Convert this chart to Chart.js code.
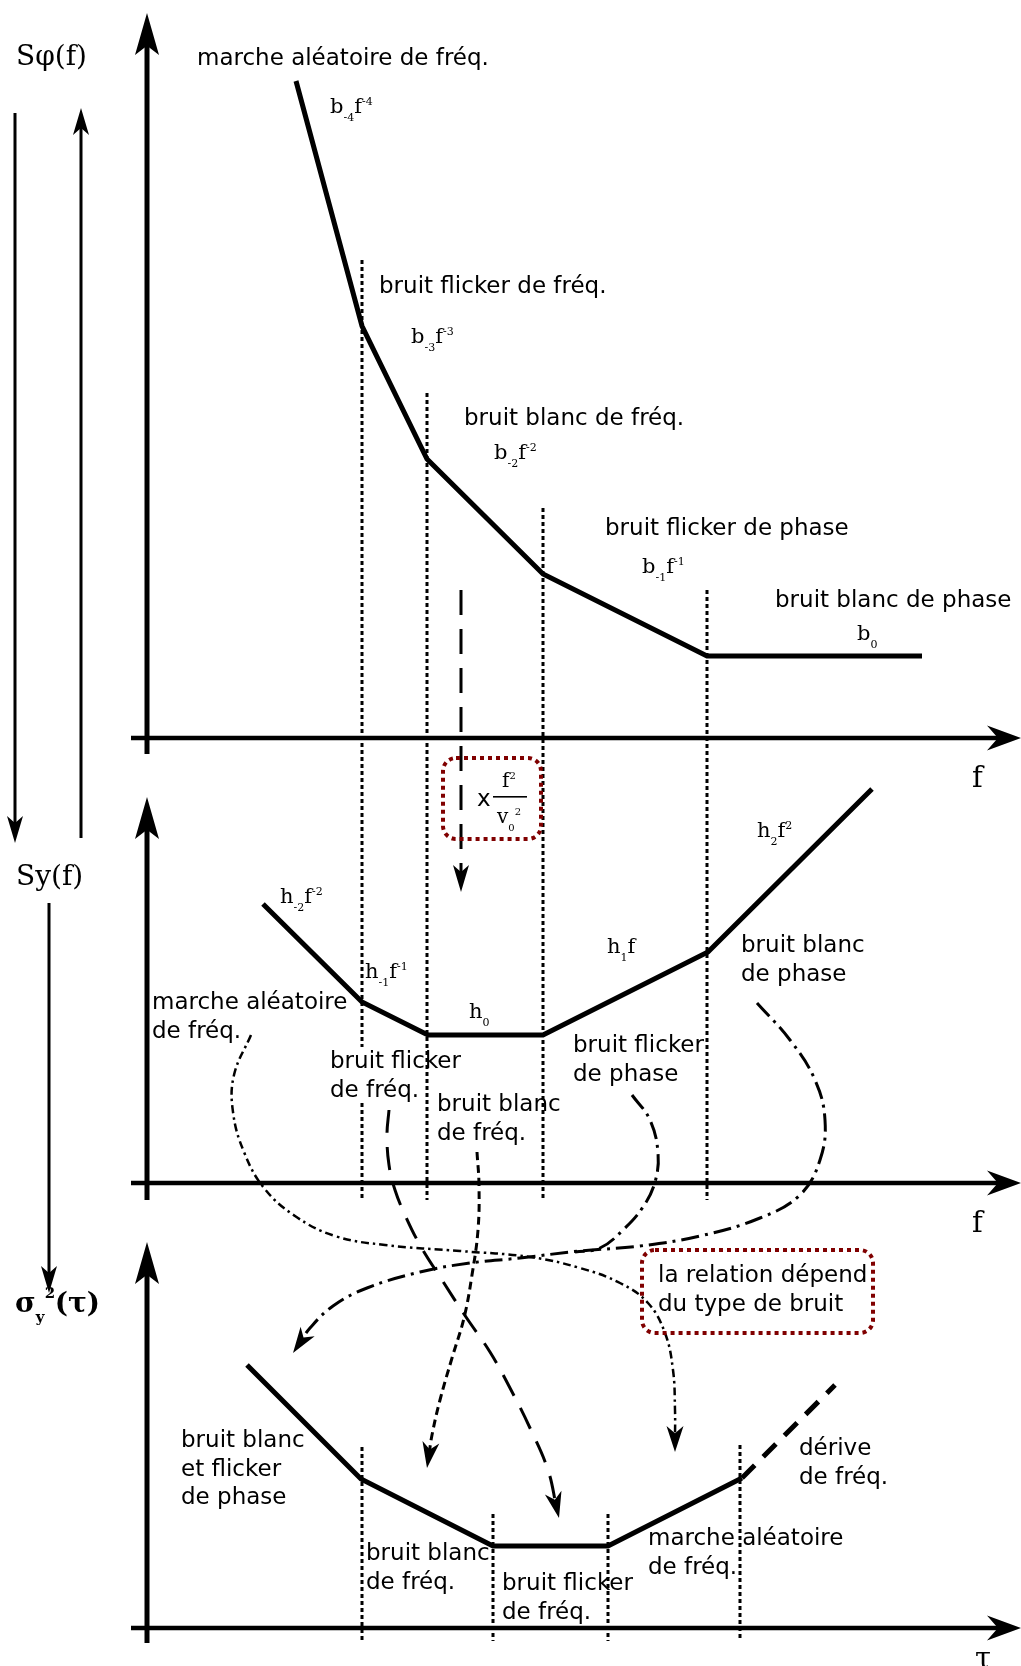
<!DOCTYPE html>
<html>
<head>
<meta charset="utf-8">
<title>Densités spectrales et variance d'Allan</title>
<script src="https://cdn.jsdelivr.net/npm/chart.js@4.4.1/dist/chart.umd.min.js"></script>
<style>
  html, body { margin: 0; padding: 0; background: #fff; }
  #box { width: 1021px; height: 1666px; position: relative; }
</style>
</head>
<body>
<div id="box"><canvas id="diagram"></canvas></div>
<script>
// ---- asymptotes (diagram units, y grows downwards) ----
const phiF = [296, 362, 427, 543, 707, 922];
const phiS = [81, 326, 459, 574, 656, 656];
const syF = [263, 362, 428, 543, 708, 872];
const syS = [904, 1002, 1035, 1035, 952, 789];
const avarTau = [247, 361, 493, 608, 742];
const avarS = [1365, 1479, 1546, 1546, 1478];
const driftTau = [742, 835];
const driftS = [1478, 1385];

// corner frequencies / corner times (dotted guides)
const cornerF = [362, 427, 543, 707];
const cornerTau = [362, 493, 608, 740];

// links from the Sy(f) noise types down to sigma_y^2(tau)
const linkMarcheX = [251, 234, 233, 244, 264, 295, 335, 385, 460, 530, 580, 620, 648, 665, 673, 675, 675];
const linkMarcheY = [1035, 1075, 1112, 1152, 1188, 1216, 1236, 1245, 1251, 1257, 1268, 1283, 1303, 1333, 1370, 1410, 1452];
const linkBlancPhX = [757, 790, 815, 825, 820, 800, 760, 700, 640, 580, 520, 470, 420, 367, 333, 310, 293];
const linkBlancPhY = [1003, 1040, 1080, 1120, 1160, 1195, 1218, 1236, 1246, 1251, 1258, 1263, 1272, 1288, 1306, 1328, 1353];
const linkFlickPhX = [632, 650, 658, 655, 643, 623, 600, 575];
const linkFlickPhY = [1095, 1120, 1153, 1182, 1207, 1230, 1248, 1252];
const linkFlickFX = [389, 387, 389, 395, 405, 420, 442, 466, 490, 510, 530, 548, 559];
const linkFlickFY = [1110, 1135, 1165, 1190, 1215, 1245, 1280, 1317, 1352, 1388, 1428, 1470, 1518];
const linkBlancFX = [477, 479, 478, 472, 464, 452, 440, 432, 427];
const linkBlancFY = [1152, 1185, 1230, 1275, 1318, 1358, 1400, 1435, 1468];

// ---- layout ----
const guideSpansF = [[[260, 1047], [1103, 1200]], [[393, 1200]], [[508, 1198]], [[590, 1200]]];
const guideSpansTau = [[[1447, 1641]], [[1514, 1641]], [[1514, 1641]], [[1445, 1641]]];
const axesUp = [[147, 754, 147, 13], [147, 1200, 147, 797], [147, 1643, 147, 1242]];
const axesRight = [[131, 738, 1021, 738], [131, 1183, 1021, 1183], [131, 1628, 1021, 1628]];
const sideArrows = [[15, 113, 15, 843], [81, 838, 81, 108], [49, 903, 49, 1293]];
const multArrow = [[461, 590], [461, 892]];

const HEAD_Y = { len: 42, half: 12, notch: 0.78 };
const HEAD_X = { len: 34, half: 12.5, notch: 0.68 };
const HEAD_S = { len: 27, half: 8, notch: 0.74 };
const HEAD_C = { len: 26, half: 8.5, notch: 0.72 };

const SANS = '23px "DejaVu Sans"';
const SERIF = '"DejaVu Serif"';
const RED = '#800000';

const textLabels = [
  [['marche aléatoire de fréq.'], 197, 65],
  [['bruit flicker de fréq.'], 379, 293],
  [['bruit blanc de fréq.'], 464, 425],
  [['bruit flicker de phase'], 605, 535],
  [['bruit blanc de phase'], 775, 607],
  [['marche aléatoire', 'de fréq.'], 152, 1009],
  [['bruit flicker', 'de fréq.'], 330, 1068],
  [['bruit blanc', 'de fréq.'], 437, 1111],
  [['bruit flicker', 'de phase'], 573, 1052],
  [['bruit blanc', 'de phase'], 741, 952],
  [['bruit blanc', 'et flicker', 'de phase'], 181, 1447],
  [['bruit blanc', 'de fréq.'], 366, 1560],
  [['bruit flicker', 'de fréq.'], 502, 1590],
  [['marche aléatoire', 'de fréq.'], 648, 1545],
  [['dérive', 'de fréq.'], 799, 1455],
  [['la relation dépend', 'du type de bruit'], 658, 1282]
];
const mathLabels = [
  ['b_{-4}f^{-4}', 330, 113, 21], ['b_{-3}f^{-3}', 411, 343, 21], ['b_{-2}f^{-2}', 494, 459, 21],
  ['b_{-1}f^{-1}', 642, 573, 21], ['b_0', 857, 640, 21],
  ['h_{-2}f^{-2}', 280, 903, 21], ['h_{-1}f^{-1}', 365, 978, 21], ['h_0', 469, 1018, 21],
  ['h_1f', 607, 953, 21], ['h_2f^2', 757, 837, 21],
  ['Sφ(f)', 16, 65, 28], ['Sy(f)', 16, 885, 28], ['f', 972, 787, 29], ['f', 972, 1232, 29], ['τ', 975, 1668, 29],
  ['f^2', 502, 787, 20], ['v_0^2', 497, 823, 20]
];
const redBoxes = [[443, 758, 541, 839], [642, 1250, 873, 1333]];

// ---- datasets ----
function line(xs, ys, style) {
  return Object.assign({
    data: xs.map((x, i) => ({ x, y: ys[i] })),
    borderColor: '#000', borderWidth: 5, borderDash: [], tension: 0,
    pointRadius: 0, pointHitRadius: 0, fill: false
  }, style);
}
const sets = [];
const heads = [];
function push(ds, head) { if (head) heads.push([sets.length, head]); sets.push(ds); }

push(line(phiF, phiS, {}));
push(line(syF, syS, {}));
push(line(avarTau, avarS, {}));
push(line(driftTau, driftS, { borderDash: [18, 12] }));

const dotted = { borderWidth: 3, borderDash: [4, 3] };
guideSpansF.forEach((spans, k) => spans.forEach(s => push(line([cornerF[k], cornerF[k]], s, dotted))));
guideSpansTau.forEach((spans, k) => spans.forEach(s => push(line([cornerTau[k], cornerTau[k]], s, dotted))));

axesUp.forEach(a => push(line([a[0], a[2]], [a[1], a[3]], {}), HEAD_Y));
axesRight.forEach(a => push(line([a[0], a[2]], [a[1], a[3]], { borderWidth: 4.5 }), HEAD_X));
sideArrows.forEach(a => push(line([a[0], a[2]], [a[1], a[3]], { borderWidth: 3 }), HEAD_S));
push(line(multArrow.map(p => p[0]), multArrow.map(p => p[1]), { borderWidth: 3, borderDash: [25, 14] }), HEAD_S);

const curve = { tension: 0.4, borderWidth: 3 };
push(line(linkMarcheX, linkMarcheY, Object.assign({}, curve, { borderWidth: 2.5, borderDash: [8, 4, 2.5, 4] })), HEAD_C);
push(line(linkBlancPhX, linkBlancPhY, Object.assign({}, curve, { borderDash: [18, 6, 3, 6] })), HEAD_C);
push(line(linkFlickPhX, linkFlickPhY, Object.assign({}, curve, { borderDash: [18, 6, 3, 6] })));
push(line(linkFlickFX, linkFlickFY, Object.assign({}, curve, { borderDash: [23, 14] })), HEAD_C);
push(line(linkBlancFX, linkBlancFY, Object.assign({}, curve, { borderDash: [8, 5] })), HEAD_C);

// ---- drawing helpers ----
function stealth(ctx, t, h) {
  ctx.save();
  ctx.translate(t.x, t.y);
  ctx.rotate(t.ang);
  ctx.beginPath();
  ctx.moveTo(0, 0);
  ctx.lineTo(-h.len, -h.half);
  ctx.lineTo(-h.len * h.notch, 0);
  ctx.lineTo(-h.len, h.half);
  ctx.closePath();
  ctx.fillStyle = '#000';
  ctx.fill();
  ctx.restore();
}

function drawMath(ctx, s, x, y, size) {
  const big = size + 'px ' + SERIF;
  const small = Math.round(size * 0.52) + 'px ' + SERIF;
  let i = 0, cx = x;
  while (i < s.length) {
    const c = s[i];
    if (c === '_' || c === '^') {
      let t;
      if (s[i + 1] === '{') { const j = s.indexOf('}', i); t = s.slice(i + 2, j); i = j + 1; }
      else { t = s[i + 1]; i += 2; }
      ctx.font = small;
      ctx.fillText(t, cx, y + (c === '_' ? size * 0.38 : -size * 0.4));
      cx += ctx.measureText(t).width;
    } else {
      ctx.font = big;
      ctx.fillText(c, cx, y);
      cx += ctx.measureText(c).width;
      i++;
    }
  }
}

function roundBox(ctx, x0, y0, x1, y1, r) {
  ctx.beginPath();
  ctx.moveTo(x0 + r, y0);
  ctx.lineTo(x1 - r, y0);
  ctx.arcTo(x1, y0, x1, y0 + r, r);
  ctx.lineTo(x1, y1 - r);
  ctx.arcTo(x1, y1, x1 - r, y1, r);
  ctx.lineTo(x0 + r, y1);
  ctx.arcTo(x0, y1, x0, y1 - r, r);
  ctx.lineTo(x0, y0 + r);
  ctx.arcTo(x0, y0, x0 + r, y0, r);
  ctx.closePath();
}

const tips = new Map();
const decor = {
  id: 'decor',
  afterDatasetsUpdate(chart) {
    heads.forEach(([idx, h]) => {
      const pts = chart.getDatasetMeta(idx).data;
      const a = pts[pts.length - 2], b = pts[pts.length - 1];
      const ang = Math.atan2(b.y - a.y, b.x - a.x);
      tips.set(idx, { x: b.x, y: b.y, ang });
      const back = h.len * 0.45;
      b.x -= Math.cos(ang) * back;
      b.y -= Math.sin(ang) * back;
    });
  },
  afterDatasetsDraw(chart) {
    const ctx = chart.ctx;
    const X = v => chart.scales.x.getPixelForValue(v);
    const Y = v => chart.scales.y.getPixelForValue(v);
    ctx.save();
    heads.forEach(([idx, h]) => stealth(ctx, tips.get(idx), h));

    ctx.strokeStyle = RED;
    ctx.lineWidth = 4;
    ctx.setLineDash([4, 4]);
    redBoxes.forEach(b => { roundBox(ctx, X(b[0]), Y(b[1]), X(b[2]), Y(b[3]), 13); ctx.stroke(); });
    ctx.setLineDash([]);

    ctx.fillStyle = '#000';
    ctx.textBaseline = 'alphabetic';
    ctx.textAlign = 'left';
    ctx.font = SANS;
    textLabels.forEach(([lines, x, y]) => lines.forEach((t, k) => ctx.fillText(t, X(x), Y(y + k * 28.5))));
    ctx.fillText('x', X(477), Y(806));

    mathLabels.forEach(([s, x, y, size]) => drawMath(ctx, s, X(x), Y(y), size));
    ctx.font = 'bold 28px ' + SERIF;
    ctx.fillText('σ', X(15), Y(1312));
    let cx = X(15) + ctx.measureText('σ').width;
    ctx.font = 'bold 15px ' + SERIF;
    ctx.fillText('y', cx, Y(1322));
    ctx.fillText('2', cx + 9, Y(1298));
    ctx.font = 'bold 28px ' + SERIF;
    ctx.fillText('(τ)', cx + 19, Y(1312));

    // fraction bar of f^2 / v0^2
    ctx.fillRect(X(493), Y(796), X(527) - X(493), 1.6);
    ctx.restore();
  }
};

new Chart(document.getElementById('diagram'), {
  type: 'line',
  data: { datasets: sets },
  options: {
    responsive: true,
    maintainAspectRatio: false,
    animation: false,
    devicePixelRatio: 1,
    events: [],
    layout: { padding: 0 },
    elements: { line: { borderJoinStyle: 'miter', borderCapStyle: 'butt' } },
    scales: {
      x: { type: 'linear', min: 0, max: 1021, display: false },
      y: { type: 'linear', min: 0, max: 1666, reverse: true, display: false }
    },
    plugins: { legend: { display: false }, tooltip: { enabled: false } }
  },
  plugins: [decor]
});
</script>
</body>
</html>
